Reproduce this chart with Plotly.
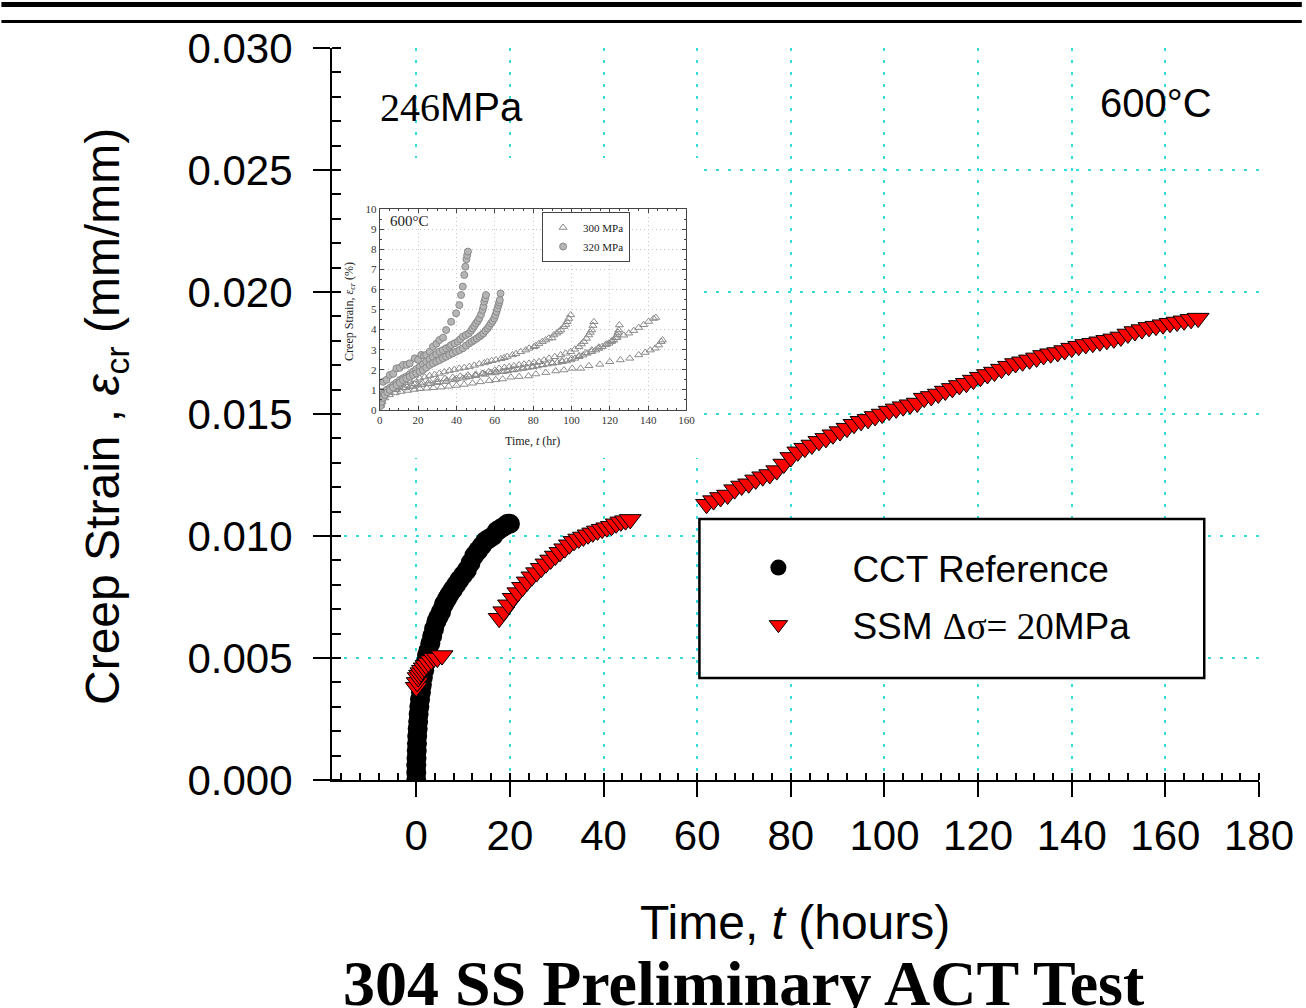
import plotly.graph_objects as go

# ---------------- main chart data ----------------
cct_t = [0.0, 0.0, 0.0, 0.05, 0.1, 0.15, 0.2, 0.3, 0.4, 0.5, 0.65, 0.8, 1.0, 1.2, 1.4, 1.7, 2.0, 2.3,
         2.6, 3.0, 3.4, 3.8, 4.3, 4.8, 5.3, 5.9, 6.5, 7.1, 7.8, 8.5, 9.2, 10.0, 10.8, 11.6, 12.4,
         13.2, 14.0, 14.8, 15.6, 16.4, 17.2, 18.0, 18.8, 19.5, 20.0]
cct_eps = [0.0000, 0.0003, 0.0006, 0.0009, 0.0012, 0.0015, 0.0018, 0.0021, 0.0024, 0.0027, 0.0030,
           0.0033, 0.0036, 0.0039, 0.0042, 0.0045, 0.0048, 0.0051, 0.0053, 0.0056, 0.0059, 0.0062,
           0.0065, 0.0067, 0.0069, 0.0072, 0.0074, 0.0076, 0.0078, 0.0080, 0.0082, 0.0084, 0.0086,
           0.0089, 0.0092, 0.0094, 0.0096, 0.0098, 0.0099, 0.0100, 0.0102, 0.0103, 0.0104, 0.0105,
           0.0105]

ssm_t1 = [0.0, 0.2, 0.4, 0.7, 1.0, 1.3, 1.7, 2.1, 2.6, 3.2, 3.8, 4.5, 5.5]
ssm_eps1 = [0.0038, 0.0040, 0.0042, 0.0043, 0.0044, 0.0045, 0.0046, 0.0047, 0.0048, 0.0049,
            0.0050, 0.0050, 0.0051]
ssm_t2 = [17.7, 18.7, 19.7, 20.7, 21.7, 22.7, 23.7, 24.7, 25.7, 26.7, 27.7, 28.7, 29.7, 30.7,
          31.7, 32.7, 33.7, 34.7, 35.7, 36.7, 37.7, 38.7, 39.7, 40.7, 41.7, 42.7, 43.7, 44.7, 45.7]
ssm_eps2 = [0.00663, 0.00690, 0.00718, 0.00745, 0.00768, 0.00790, 0.00812, 0.00833, 0.00850,
            0.00868, 0.00886, 0.00902, 0.00918, 0.00933, 0.00948, 0.00964, 0.00978, 0.00988,
            0.00996, 0.01005, 0.01013, 0.01021, 0.01028, 0.01034, 0.01040, 0.01050, 0.01058,
            0.01063, 0.01068]
ssm_t3 = [62.0, 63.5, 65.0, 66.5, 68.0, 69.5, 71.0, 72.5, 74.0, 75.5, 77.0, 78.5, 80.0, 81.5,
          83.0, 84.5, 86.0, 87.5, 89.0, 90.5, 92.0, 93.5, 95.0, 96.5, 98.0, 99.5, 101.0, 102.5,
          104.0, 105.5, 107.0, 108.5, 110.0, 111.5, 113.0, 114.5, 116.0, 117.5, 119.0, 120.5,
          122.0, 123.5, 125.0, 126.5, 128.0, 129.5, 131.0, 132.5, 134.0, 135.5, 137.0, 138.5,
          140.0, 141.5, 143.0, 144.5, 146.0, 147.5, 149.0, 150.5, 152.0, 153.5, 155.0, 156.5,
          158.0, 159.5, 161.0, 162.5, 164.0, 165.5, 167.0]
ssm_eps3 = [0.01130, 0.01145, 0.01158, 0.01168, 0.01190, 0.01205, 0.01214, 0.01230, 0.01243,
            0.01252, 0.01268, 0.01295, 0.01322, 0.01345, 0.01360, 0.01373, 0.01388, 0.01400,
            0.01415, 0.01428, 0.01442, 0.01458, 0.01470, 0.01478, 0.01490, 0.01500, 0.01512,
            0.01521, 0.01530, 0.01538, 0.01545, 0.01565, 0.01572, 0.01582, 0.01594, 0.01605,
            0.01617, 0.01626, 0.01639, 0.01651, 0.01662, 0.01672, 0.01684, 0.01696, 0.01707,
            0.01714, 0.01722, 0.01730, 0.01740, 0.01747, 0.01752, 0.01760, 0.01770, 0.01778,
            0.01785, 0.01790, 0.01796, 0.01802, 0.01808, 0.01816, 0.01828, 0.01838, 0.01846,
            0.01855, 0.01860, 0.01866, 0.01872, 0.01877, 0.01882, 0.01888, 0.01893]

x_ticks = [0, 20, 40, 60, 80, 100, 120, 140, 160, 180]
y_ticks = [0.000, 0.005, 0.010, 0.015, 0.020, 0.025, 0.030]
X_RANGE = [-18, 180]
Y_RANGE = [0, 0.030]

# ---------------- inset data (creep strain in %) ----------------
i320_a_t = [0.3, 0.9, 1.7, 3.5, 5.2, 7.0, 8.7, 10.4, 12.1, 14.0, 15.6, 18.2, 20.0, 21.6, 23.0,
            24.2, 26.0, 27.7, 29.5, 31.1, 33.0, 34.6, 37.2, 39.8, 41.5, 42.4, 43.3, 44.1, 44.6,
            45.2, 45.6, 46.0]
i320_a_e = [0.5, 0.9, 1.4, 1.5, 1.74, 1.8, 2.07, 2.1, 2.24, 2.25, 2.32, 2.57, 2.5, 2.74, 2.7,
            2.74, 2.9, 3.15, 3.3, 3.48, 3.6, 3.98, 4.39, 4.81, 5.22, 5.72, 6.14, 6.72, 7.13, 7.5,
            7.7, 7.88]
i320_b_t = [0.5, 0.9, 2.0, 3.5, 5.2, 6.9, 8.6, 10.4, 12.1, 13.8, 15.6, 17.3, 19.0, 20.8, 22.5,
            24.2, 26.0, 27.7, 29.4, 31.1, 32.9, 34.6, 36.3, 37.2, 39.0, 40.7, 42.0, 43.3, 44.9,
            46.4, 47.6, 48.4, 49.3, 50.2, 51.1, 51.9, 52.8, 53.6, 54.1, 54.5, 55.0, 55.4]
i320_b_e = [0.3, 0.58, 0.8, 1.0, 1.1, 1.24, 1.35, 1.49, 1.58, 1.66, 1.78, 1.91, 2.03, 2.16,
            2.28, 2.40, 2.52, 2.65, 2.78, 2.90, 2.98, 3.07, 3.15, 3.23, 3.32, 3.40, 3.52, 3.65,
            3.73, 3.81, 3.94, 4.06, 4.18, 4.31, 4.43, 4.56, 4.75, 4.97, 5.15, 5.39, 5.55, 5.72]
i320_c_t = [0.3, 0.9, 1.7, 2.6, 3.9, 5.2, 6.9, 8.7, 10.4, 12.1, 13.8, 15.6, 17.3, 19.0, 20.8,
            22.5, 24.2, 26.0, 27.7, 29.4, 31.1, 32.9, 34.6, 36.3, 38.0, 39.8, 41.5, 43.3, 45.0,
            46.7, 48.0, 49.3, 50.6, 51.9, 53.0, 54.0, 55.1, 56.2, 57.1, 58.0, 58.9, 59.7, 60.3,
            60.9, 61.4, 61.9, 62.3, 62.6, 63.0]
i320_c_e = [0.2, 0.41, 0.6, 0.75, 0.88, 1.0, 1.12, 1.24, 1.36, 1.49, 1.57, 1.66, 1.74, 1.82,
            1.9, 1.99, 2.1, 2.24, 2.32, 2.40, 2.48, 2.57, 2.65, 2.74, 2.82, 2.90, 2.98, 3.07, 3.2,
            3.32, 3.4, 3.48, 3.56, 3.65, 3.73, 3.81, 3.94, 4.06, 4.18, 4.31, 4.43, 4.56, 4.72,
            4.89, 5.05, 5.22, 5.35, 5.47, 5.8]

i300_d_t = [0.3, 0.9, 2.6, 4.3, 6.1, 8.2, 10.4, 13.0, 15.6, 18.2, 20.8, 23.4, 26.0, 28.6, 31.1,
            33.7, 36.3, 38.9, 41.5, 44.1, 46.7, 49.3, 51.9, 54.5, 56.2, 58.4, 60.6, 63.2, 64.9,
            66.5, 69.2, 71.0, 73.5, 76.2, 77.9, 80.5, 81.3, 83.0, 84.8, 86.5, 88.2, 89.9, 90.8,
            92.3, 93.4, 94.4, 96.0, 97.0, 97.7, 98.6, 99.6]
i300_d_e = [0.3, 0.5, 0.83, 0.95, 1.08, 1.18, 1.28, 1.36, 1.44, 1.51, 1.58, 1.64, 1.71, 1.76,
            1.82, 1.89, 1.96, 2.01, 2.07, 2.11, 2.16, 2.22, 2.29, 2.34, 2.40, 2.45, 2.49, 2.55,
            2.6, 2.66, 2.74, 2.8, 2.9, 2.98, 3.07, 3.15, 3.20, 3.3, 3.40, 3.48, 3.57, 3.58, 3.73,
            3.82, 3.90, 3.98, 4.15, 4.25, 4.39, 4.55, 4.73]
i300_e_t = [0.3, 1.0, 2.6, 5.0, 8.7, 13.0, 17.3, 21.7, 26.0, 30.3, 34.6, 39.0, 43.3, 46.7, 50.2,
            53.5, 56.8, 60.0, 62.3, 65.0, 67.5, 70.0, 72.7, 75.3, 77.9, 80.5, 83.1, 85.7, 88.3,
            91.3, 94.4, 97.0, 99.6, 101.7, 103.9, 105.2, 106.5, 107.8, 109.0, 109.8, 110.6,
            111.2, 111.7]
i300_e_e = [0.25, 0.41, 0.75, 0.88, 1.0, 1.1, 1.18, 1.26, 1.30, 1.36, 1.41, 1.50, 1.58, 1.66,
            1.74, 1.82, 1.9, 1.98, 2.07, 2.11, 2.15, 2.2, 2.24, 2.28, 2.32, 2.36, 2.40, 2.48,
            2.57, 2.65, 2.74, 2.82, 2.9, 3.02, 3.15, 3.28, 3.4, 3.56, 3.73, 3.86, 3.98, 4.2, 4.39]
i300_f_t = [0.3, 1.0, 2.5, 4.0, 7.0, 10.0, 14.0, 18.0, 22.0, 26.0, 30.0, 34.0, 38.0, 42.0, 46.0,
            50.0, 54.0, 58.0, 61.0, 64.0, 66.6, 69.2, 71.8, 74.4, 77.0, 79.6, 82.2, 84.8, 87.4,
            90.0, 92.6, 95.2, 97.4, 99.6, 101.8, 103.9, 106.0, 108.2, 110.4, 112.6, 114.3,
            116.0, 117.8, 119.5, 120.8, 122.1, 123.0, 123.8, 124.3, 124.7, 125.0]
i300_f_e = [0.3, 0.6, 0.8, 0.95, 1.08, 1.15, 1.23, 1.30, 1.37, 1.44, 1.50, 1.56, 1.62, 1.68,
            1.73, 1.77, 1.82, 1.86, 1.89, 1.91, 1.95, 1.99, 2.03, 2.07, 2.11, 2.15, 2.19, 2.24,
            2.28, 2.32, 2.36, 2.40, 2.44, 2.49, 2.57, 2.65, 2.73, 2.82, 2.90, 2.98, 3.06, 3.15,
            3.24, 3.32, 3.40, 3.48, 3.6, 3.73, 3.86, 3.98, 4.23]
i300_g_t = [0.3, 1.5, 4.0, 8.0, 12.0, 16.0, 20.0, 25.0, 30.0, 35.0, 40.0, 45.0, 50.0, 55.0,
            60.0, 65.0, 70.0, 75.0, 80.0, 85.0, 90.0, 95.0, 100.0, 104.0, 107.4, 110.6, 114.3,
            118.4, 121.2, 123.8, 127.3, 129.9, 132.5, 135.1, 137.7, 140.3, 142.9, 144.0]
i300_g_e = [0.3, 0.7, 0.9, 1.02, 1.1, 1.17, 1.24, 1.32, 1.40, 1.48, 1.56, 1.63, 1.70, 1.77,
            1.84, 1.92, 2.0, 2.08, 2.16, 2.25, 2.35, 2.45, 2.56, 2.7, 2.84, 2.98, 3.12, 3.28,
            3.45, 3.6, 3.72, 3.82, 3.95, 4.10, 4.24, 4.40, 4.55, 4.6]
i300_h_t = [0.3, 1.0, 2.6, 5.0, 8.0, 11.0, 14.5, 18.0, 21.0, 24.5, 28.0, 32.0, 36.0, 40.0,
            44.0, 48.4, 52.5, 57.1, 60.5, 64.1, 68.4, 72.7, 77.6, 81.4, 86.6, 91.8, 96.1, 100.4,
            104.8, 109.1, 114.8, 120.0, 125.5, 130.4, 135.1, 138.5, 141.1, 143.7, 145.5, 146.8,
            147.5]
i300_h_e = [0.2, 0.4, 0.6, 0.75, 0.85, 0.92, 0.97, 1.02, 1.06, 1.08, 1.11, 1.14, 1.18, 1.22,
            1.27, 1.33, 1.40, 1.46, 1.50, 1.54, 1.63, 1.66, 1.69, 1.79, 1.86, 1.94, 1.99, 2.07,
            2.07, 2.20, 2.27, 2.40, 2.49, 2.57, 2.74, 2.86, 2.98, 3.07, 3.23, 3.40, 3.48]

inset_x_ticks = [0, 20, 40, 60, 80, 100, 120, 140, 160]
inset_y_ticks = [0, 1, 2, 3, 4, 5, 6, 7, 8, 9, 10]

# ---------------- layout geometry ----------------
W, H = 1306, 1008
ML, MR, MT, MB = 332, 43, 48, 228
PW, PH = W - ML - MR, H - MT - MB


def px(x):
    return (x - ML) / PW


def py(y):
    return (H - MB - y) / PH


def dx(x):  # pixel -> main x data (for decoration shapes only)
    return X_RANGE[0] + px(x) * (X_RANGE[1] - X_RANGE[0])


def dy(y):
    return Y_RANGE[0] + py(y) * (Y_RANGE[1] - Y_RANGE[0])


SANS = "Liberation Sans, Arial, sans-serif"
SERIF = "Liberation Serif, Times New Roman, serif"
GRID = "#35dcdc"

fig = go.Figure()

fig.add_trace(go.Scatter(
    x=cct_t, y=cct_eps, mode="markers", name="CCT Reference",
    marker=dict(symbol="circle", size=20, color="black", line=dict(width=0)),
    legendgroup="g1", legend="legend"))
fig.add_trace(go.Scatter(
    x=ssm_t1 + ssm_t2 + ssm_t3, y=ssm_eps1 + ssm_eps2 + ssm_eps3, mode="markers",
    name="SSM <span style='font-family:Liberation Serif'>Δσ= 20</span>MPa",
    marker=dict(symbol="triangle-down", size=19, color="#ff0000", line=dict(width=1, color="black")),
    legendgroup="g2", legend="legend"))

tri_sets = [(i300_d_t, i300_d_e), (i300_e_t, i300_e_e), (i300_f_t, i300_f_e),
            (i300_g_t, i300_g_e), (i300_h_t, i300_h_e)]
for k, (tt, ee) in enumerate(tri_sets):
    fig.add_trace(go.Scatter(
        x=tt, y=ee, xaxis="x2", yaxis="y2", mode="markers", name="300 MPa",
        marker=dict(symbol="triangle-up-open", size=7, color="#8a8a8a", line=dict(width=1)),
        legend="legend2", legendgroup="t300", showlegend=(k == 0)))
circ_sets = [(i320_a_t, i320_a_e), (i320_b_t, i320_b_e), (i320_c_t, i320_c_e)]
for k, (tt, ee) in enumerate(circ_sets):
    fig.add_trace(go.Scatter(
        x=tt, y=ee, xaxis="x2", yaxis="y2", mode="markers", name="320 MPa",
        marker=dict(symbol="circle", size=7, color="#b5b5b5", line=dict(width=1, color="#8a8a8a")),
        legend="legend2", legendgroup="t320", showlegend=(k == 0)))

# main axes
fig.update_layout(
    xaxis=dict(range=X_RANGE, tickvals=x_ticks, ticks="outside", ticklen=15, tickwidth=2,
               tickcolor="black", showline=True, linewidth=2, linecolor="black",
               showgrid=True, gridcolor=GRID, gridwidth=1.5, griddash="3px,9px", zeroline=False,
               tickfont=dict(family=SANS, size=42, color="black"), ticklabelstandoff=3,
               minor=dict(dtick=4, tick0=0, ticks="inside", ticklen=7, tickwidth=1.5,
                          tickcolor="black", showgrid=False),
               fixedrange=True),
    yaxis=dict(range=Y_RANGE, tickvals=y_ticks, tickformat=".3f", ticks="outside", ticklen=17,
               tickwidth=2, tickcolor="black", showline=True, linewidth=2, linecolor="black",
               showgrid=True, gridcolor=GRID, gridwidth=1.5, griddash="3px,9px", zeroline=False,
               tickfont=dict(family=SANS, size=42, color="black"), ticklabelstandoff=12,
               minor=dict(dtick=0.001, tick0=0, ticks="inside", ticklen=9, tickwidth=1.5,
                          tickcolor="black", showgrid=False),
               fixedrange=True),
    xaxis3=dict(overlaying="x", side="top", anchor="y", range=X_RANGE, tickvals=x_ticks,
                ticks="inside", ticklen=11, tickwidth=2, tickcolor="black", showticklabels=False,
                showline=True, linewidth=2, linecolor="black", showgrid=False, zeroline=False,
                minor=dict(dtick=4, tick0=0, ticks="inside", ticklen=7, tickwidth=1.5,
                           tickcolor="black", showgrid=False)),
    yaxis3=dict(overlaying="y", side="right", anchor="x", range=Y_RANGE, tickvals=y_ticks,
                ticks="inside", ticklen=18, tickwidth=2, tickcolor="black", showticklabels=False,
                showline=True, linewidth=2, linecolor="black", showgrid=False, zeroline=False,
                minor=dict(dtick=0.001, tick0=0, ticks="inside", ticklen=11, tickwidth=1.5,
                           tickcolor="black", showgrid=False)),
    # inset axes
    xaxis2=dict(domain=[px(380), px(688)], anchor="y2", range=[0, 160], tickvals=inset_x_ticks,
                ticks="inside", ticklen=4, tickwidth=1, tickcolor="#444", mirror="allticks",
                showline=True, linewidth=1, linecolor="#444", showgrid=True, gridcolor="#c8c8c8",
                gridwidth=1, griddash="1px,3px", zeroline=False,
                tickfont=dict(family=SERIF, size=11, color="#333"),
                minor=dict(dtick=5, ticks="inside", ticklen=2, tickcolor="#444", showgrid=False)),
    yaxis2=dict(domain=[py(410), py(209)], anchor="x2", range=[0, 10], tickvals=inset_y_ticks,
                ticks="inside", ticklen=4, tickwidth=1, tickcolor="#444", mirror="allticks",
                showline=True, linewidth=1, linecolor="#444", showgrid=True, gridcolor="#c8c8c8",
                gridwidth=1, griddash="1px,3px", zeroline=False,
                tickfont=dict(family=SERIF, size=11, color="#333"),
                minor=dict(dtick=0.5, ticks="inside", ticklen=2, tickcolor="#444", showgrid=False)),
)

fig.update_layout(
    width=W, height=H, margin=dict(l=ML, r=MR, t=MT, b=MB, pad=0),
    paper_bgcolor="white", plot_bgcolor="white", showlegend=True,
    legend=dict(x=px(706), y=py(537), xanchor="left", yanchor="top",
                bgcolor="rgba(0,0,0,0)", borderwidth=0, itemwidth=138, tracegroupgap=6,
                traceorder="grouped", font=dict(family=SANS, size=37, color="black")),
    legend2=dict(x=px(543), y=py(212), xanchor="left", yanchor="top", bgcolor="white",
                 bordercolor="#444", borderwidth=1, itemwidth=30, traceorder="normal",
                 font=dict(family=SERIF, size=11, color="#222")),
)

shapes = [
    # header rules
    dict(type="line", xref="paper", yref="paper", x0=px(0), x1=px(W), y0=py(4.5), y1=py(4.5),
         line=dict(width=5, color="black")),
    dict(type="line", xref="paper", yref="paper", x0=px(0), x1=px(W), y0=py(21.5), y1=py(21.5),
         line=dict(width=3, color="black")),
    # legend box
    dict(type="rect", xref="paper", yref="paper", x0=px(701), x1=px(1208), y0=py(678), y1=py(519),
         fillcolor="white", line=dict(width=2.5, color="black"), layer="above"),
    # white area behind inset (covers main gridlines)
    dict(type="rect", xref="x", yref="y", x0=dx(335), x1=dx(702), y0=dy(458), y1=dy(158),
         fillcolor="white", line=dict(width=0), layer="between"),
]
fig.update_layout(shapes=shapes)

annotations = [
    dict(text="<span style='font-family:Liberation Serif'>246</span>MPa", x=px(378), y=py(108),
         xanchor="left", yanchor="middle", font=dict(family=SANS, size=40, color="black")),
    dict(text="600°C", x=px(1218), y=py(103), xanchor="right", yanchor="middle",
         font=dict(family=SANS, size=40, color="black")),
    dict(text="600°C", x=px(388), y=py(221), xanchor="left", yanchor="middle",
         font=dict(family=SERIF, size=15, color="#222")),
    dict(text="Creep Strain, <i>ε<sub>cr</sub></i> (%)", x=px(350), y=py(311), textangle=-90,
         xanchor="center", yanchor="middle", font=dict(family=SERIF, size=12, color="#222")),
    dict(text="Time, <i>t</i> (hr)", x=px(533), y=py(441), xanchor="center", yanchor="middle",
         font=dict(family=SERIF, size=12, color="#222")),
    dict(text="Creep Strain , <i>ε</i><sub>cr</sub> (mm/mm)", x=px(105), y=py(416), textangle=-90,
         xanchor="center", yanchor="middle", font=dict(family=SANS, size=48, color="black")),
    dict(text="Time, <i>t</i> (hours)", x=px(797), y=py(922), xanchor="center", yanchor="middle",
         font=dict(family=SANS, size=48, color="black")),
    dict(text="<b>304 SS Preliminary ACT Test</b>", x=px(746), y=py(983), xanchor="center",
         yanchor="middle", font=dict(family=SERIF, size=64, color="black")),
]
for a in annotations:
    a.update(xref="paper", yref="paper", showarrow=False)
fig.update_layout(annotations=annotations)

fig.write_html("out.html", config={"displayModeBar": False},
               post_script="document.body.style.margin='0';")
